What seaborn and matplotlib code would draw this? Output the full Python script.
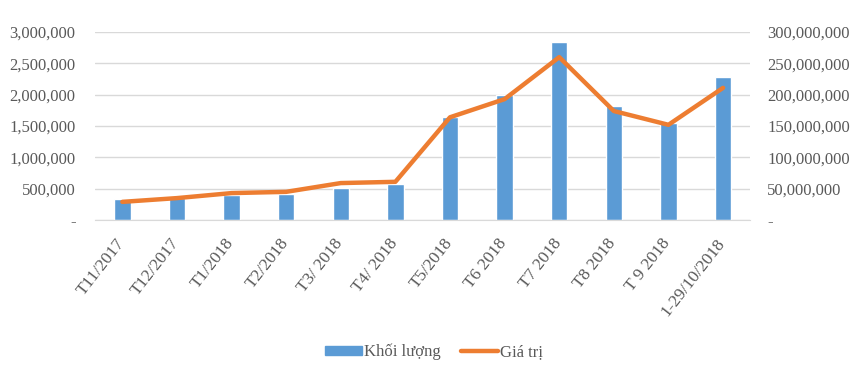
import numpy as np
import pandas as pd
import matplotlib
matplotlib.use("Agg")
import matplotlib.pyplot as plt
import matplotlib.transforms as mtransforms
import seaborn as sns
from matplotlib.ticker import FuncFormatter
from matplotlib.patches import Patch
from matplotlib.lines import Line2D

# =========================================
# DATA
# =========================================

months = ["T11/2017", "T12/2017", "T1/2018", "T2/2018", "T3/ 2018", "T4/ 2018",
          "T5/2018", "T6 2018", "T7 2018", "T8 2018", "T 9 2018", "1-29/10/2018"]

khoi_luong = [335000, 345000, 400000, 415000, 510000, 575000,
              1640000, 1995000, 2840000, 1820000, 1550000, 2280000]

gia_tri = [29000000, 35000000, 43000000, 45000000, 59000000, 61000000,
           164000000, 193000000, 260000000, 174000000, 152000000, 211000000]

left_ticks = [0, 500000, 1000000, 1500000, 2000000, 2500000, 3000000]
right_ticks = [0, 50000000, 100000000, 150000000, 200000000, 250000000, 300000000]

df = pd.DataFrame({"month": months, "kl": khoi_luong, "gt": gia_tri})
df["pos"] = df.index

# =========================================
# STYLE
# =========================================

sns.set_style("white")
plt.rcParams["font.family"] = ["Liberation Serif", "DejaVu Serif"]

blue = "#5B9BD5"
orange = "#ED7D31"
text_color = "#595959"

fig = plt.figure(figsize=(8.6, 3.82), dpi=100)
ax = fig.add_axes([0.1105, 0.424, 0.762, 0.492])

# bars - Khoi luong
sns.barplot(data=df, x="month", y="kl", color=blue, saturation=1,
            width=0.3, ax=ax, zorder=2)

# line - Gia tri on second axis
ax2 = ax.twinx()
sns.lineplot(data=df, x="pos", y="gt", color=orange, linewidth=3.2,
             ax=ax2, zorder=3)

ax.set_xlim(-0.5, len(months) - 0.5)
ax.set_ylim(left_ticks[0], left_ticks[-1])
ax2.set_ylim(right_ticks[0], right_ticks[-1])
ax.set_yticks(left_ticks)
ax2.set_yticks(right_ticks)

fmt = FuncFormatter(lambda v, p: "-" if v == 0 else f"{v:,.0f}")
ax.yaxis.set_major_formatter(fmt)
ax2.yaxis.set_major_formatter(fmt)

ax.grid(axis="y", color="#D9D9D9", linewidth=1, zorder=0)
ax.set_axisbelow(True)

for a in (ax, ax2):
    for s in a.spines.values():
        s.set_visible(False)
    a.set_xlabel("")
    a.set_ylabel("")
    a.tick_params(length=0, labelsize=12, labelcolor=text_color)

ax.spines["bottom"].set_visible(True)
ax.spines["bottom"].set_color("#D9D9D9")

ax.set_xticks(df["pos"])
ax.set_xticklabels(months, rotation=52, ha="right", va="top",
                   rotation_mode="anchor", fontsize=12.5)
ax.tick_params(axis="x", pad=11)
ax.tick_params(axis="y", pad=14)
ax2.tick_params(axis="y", pad=12)

# nudge the rotated labels a little to the left
shift = mtransforms.ScaledTranslation(-7 / 100, 0, fig.dpi_scale_trans)
for lab in ax.get_xticklabels():
    lab.set_transform(lab.get_transform() + shift)

# =========================================
# LEGEND
# =========================================

handles = [
    Patch(facecolor=blue, edgecolor=blue),
    Line2D([0], [0], color=orange, linewidth=3.2),
]
leg = fig.legend(handles, ["Khối lượng", "Giá trị"], loc="center",
                 bbox_to_anchor=(0.505, 0.078), ncol=2, frameon=False,
                 fontsize=12, handlelength=2.2, handleheight=0.5,
                 columnspacing=1.2, handletextpad=0.15)
for t in leg.get_texts():
    t.set_color(text_color)

plt.savefig("out.png", dpi=100)
